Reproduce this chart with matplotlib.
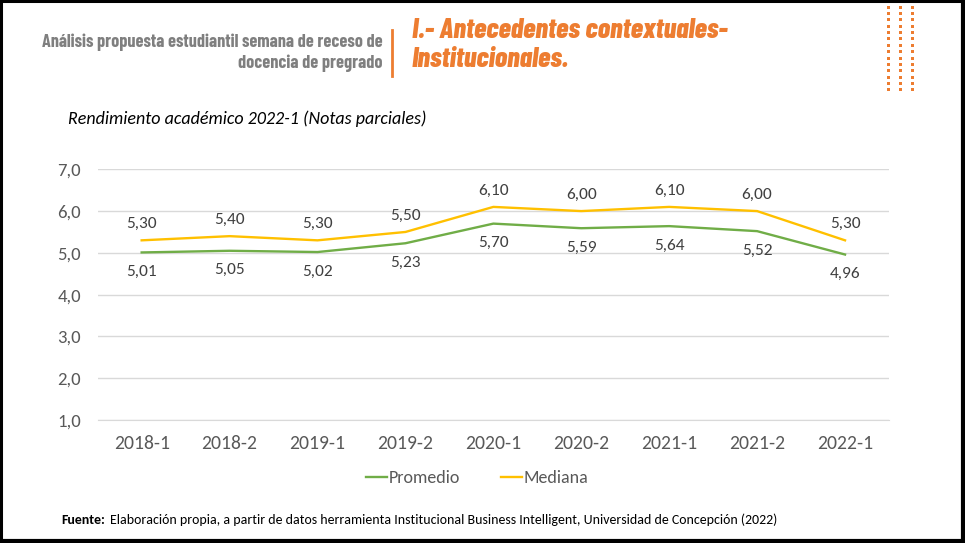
import matplotlib
matplotlib.use("Agg")
import matplotlib.pyplot as plt
from matplotlib.patches import Rectangle
from matplotlib.lines import Line2D

semestres = ["2018-1", "2018-2", "2019-1", "2019-2", "2020-1", "2020-2", "2021-1", "2021-2", "2022-1"]
promedio = [5.01, 5.05, 5.02, 5.23, 5.70, 5.59, 5.64, 5.52, 4.96]
mediana = [5.30, 5.40, 5.30, 5.50, 6.10, 6.00, 6.10, 6.00, 5.30]
yticks = [1, 2, 3, 4, 5, 6, 7]

verde = "#70AD47"
amarillo = "#FFC000"
naranjo = "#ED7D31"
gris = "#595959"

W, H = 965, 543
calibri = ['Carlito', 'Lato', 'DejaVu Sans']
cond = ['Barlow Condensed', 'Roboto Condensed', 'DejaVu Sans']
plt.rcParams['font.family'] = calibri
fig = plt.figure(figsize=(W / 100, H / 100), dpi=100)
renderer = fig.canvas.get_renderer()

def fx(px):
    return px / W

def fy(py):
    return 1 - py / H

def ajustar(t, ancho):
    # escala el tamano de letra para que el texto ocupe 'ancho' pixeles
    w = t.get_window_extent(renderer).width
    t.set_fontsize(t.get_fontsize() * ancho / w)

ax = fig.add_axes([fx(97.7), fy(420), fx(889) - fx(97.7), fy(169.3) - fy(420)])
x = list(range(len(semestres)))
ax.plot(x, promedio, color=verde, lw=1.7, label="Promedio")
ax.plot(x, mediana, color=amarillo, lw=1.7, label="Mediana")

for i in x:
    ax.annotate(f"{mediana[i]:.2f}".replace(".", ","), (i, mediana[i]), xytext=(0, 11.5),
                textcoords="offset points", ha="center", va="center", fontsize=12.5, color="#404040")
    ax.annotate(f"{promedio[i]:.2f}".replace(".", ","), (i, promedio[i]), xytext=(0, -14),
                textcoords="offset points", ha="center", va="center", fontsize=12.5, color="#404040")

ax.set_xlim(-0.5, len(semestres) - 0.5)
ax.set_ylim(1, 7)
ax.set_yticks(yticks)
ax.set_yticklabels([f"{v:.1f}".replace(".", ",") for v in yticks])
ax.set_xticks(x)
ax.set_xticklabels(semestres)
ax.grid(axis="y", color="#D9D9D9", lw=1)
ax.set_axisbelow(True)
for s in ["top", "right", "left"]:
    ax.spines[s].set_visible(False)
ax.spines["bottom"].set_color("#D9D9D9")
ax.tick_params(axis="both", length=0, labelsize=13.5, colors=gris)
ax.tick_params(axis="x", labelsize=14.2, pad=11)
ax.tick_params(axis="y", pad=12)

handles = [Line2D([], [], color=verde, lw=1.7), Line2D([], [], color=amarillo, lw=1.7)]
fig.legend(handles, ["Promedio", "Mediana"], loc="center", bbox_to_anchor=(fx(477), fy(478)),
           ncol=2, frameon=False, fontsize=13, handlelength=1.17, handletextpad=0.1,
           columnspacing=2.25, labelcolor=gris)

# subtitulo
t = fig.text(fx(68), fy(119), "Rendimiento académico 2022-1 (Notas parciales)", fontsize=12,
             style="italic", color="#000000", va="center")
ajustar(t, 357)

# encabezado
t = fig.text(fx(383), fy(42), "Análisis propuesta estudiantil semana de receso de", family=cond,
             fontsize=12, weight="bold", color="#7F7F7F", ha="right", va="center")
ajustar(t, 341)
t2 = fig.text(fx(383), fy(63), "docencia de pregrado", family=cond,
              fontsize=t.get_fontsize(), weight="bold", color="#7F7F7F", ha="right", va="center")
fig.add_artist(Line2D([fx(392), fx(392)], [fy(30), fy(76)], color=naranjo, lw=2))
t = fig.text(fx(412), fy(30), "I.- Antecedentes contextuales-", family=cond,
             fontsize=18, weight="heavy", style="italic", color=naranjo, va="center")
ajustar(t, 316)
fig.text(fx(412), fy(59), "Institucionales.", family=cond,
         fontsize=t.get_fontsize(), weight="heavy", style="italic", color=naranjo, va="center")

# puntos decorativos
for c in range(3):
    for r in range(14):
        fig.add_artist(Rectangle((fx(886.5 + 12 * c), fy(8.7 + 6.35 * r)), fx(3), 3 / H,
                                 color=naranjo, lw=0))

# fuente
t = fig.text(fx(61.5), fy(520), "Fuente:", fontsize=9.5, weight="bold", color="#000000", va="center")
t2 = fig.text(fx(110), fy(520), "Elaboración propia, a partir de datos herramienta Institucional Business Intelligent, Universidad de Concepción (2022)",
              fontsize=9.5, color="#000000", va="center")
ajustar(t2, 666)
t.set_fontsize(t2.get_fontsize())

# borde
fig.add_artist(Line2D([fx(1), fx(1), fx(963), fx(963), fx(1)],
                      [fy(1), fy(541), fy(541), fy(1), fy(1)], color="black", lw=2.2))
fig.add_artist(Line2D([fx(963), fx(963)], [fy(1), fy(541)], color="black", lw=3))
fig.add_artist(Line2D([fx(1), fx(963)], [fy(541), fy(541)], color="black", lw=3))

fig.savefig("out.png", dpi=100)
